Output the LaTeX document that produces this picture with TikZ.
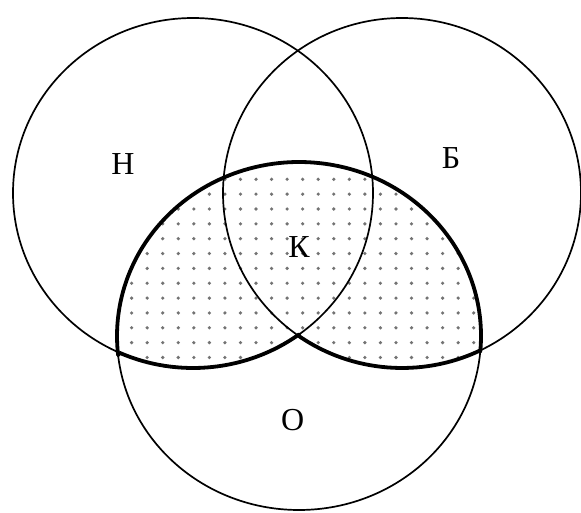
\documentclass[tikz,border=0pt]{standalone}
\usepackage{fontspec}
\setmainfont{Liberation Serif}
\begin{document}
\begin{tikzpicture}[x=1pt,y=1pt,
  setline/.style={line width=1.7pt},
  regionline/.style={line width=3.8pt, line join=round},
  dotmark/.style={fill=black!55},
  lbl/.style={inner sep=0pt, font=\fontsize{32}{32}\selectfont}]
\useasboundingbox (0,0) rectangle (581,512);
\fill[white] (0,0) rectangle (581,512);
% dotted region O ∩ (Н ∪ Б)
\begin{scope}
\clip ([shift={(193,319)}]246:180 and 175) arc[start angle=246, end angle=306, x radius=180, y radius=175]
  -- ([shift={(402,319)}]235:179 and 175) arc[start angle=235, end angle=295.7, x radius=179, y radius=175]
  -- ([shift={(299,176)}]-5.2:182 and 174) arc[start angle=-5.2, end angle=186.3, x radius=182, y radius=174]
  -- cycle;
\foreach \i in {-9,...,14} {
  \foreach \j in {0,...,12} {
    \fill[dotmark] (256+15.55*\i, 332.7-14.85*\j) circle (1.8);
  }
}
\end{scope}
% the three sets
\draw[setline] (193,319) ellipse [x radius=180, y radius=175];
\draw[setline] (402,319) ellipse [x radius=179, y radius=175];
\draw[setline] (299,176) ellipse [x radius=182, y radius=174];
% outline of the region
\draw[regionline] ([shift={(193,319)}]246:180 and 175) arc[start angle=246, end angle=306, x radius=180, y radius=175]
  -- ([shift={(402,319)}]235:179 and 175) arc[start angle=235, end angle=295.7, x radius=179, y radius=175]
  -- ([shift={(299,176)}]-5.2:182 and 174) arc[start angle=-5.2, end angle=186.3, x radius=182, y radius=174]
  -- cycle;
% labels
\node[lbl] (n) at (123,347.5) {Н};
\node[lbl] (b) at (451,354) {Б};
\node[lbl] (k) at (299,265.3) {К};
\node[lbl] (o) at (292.6,92.4) {О};
\end{tikzpicture}
\end{document}
